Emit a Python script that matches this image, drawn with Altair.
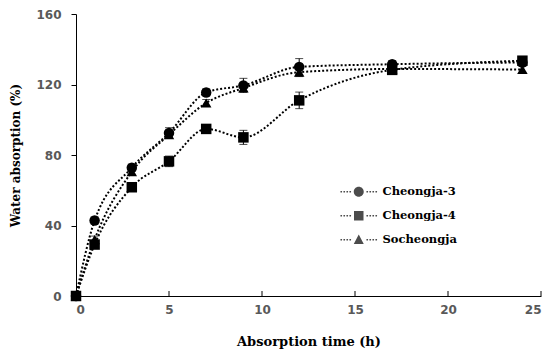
import altair as alt
import pandas as pd

series = ["Cheongja-3", "Cheongja-4", "Socheongja"]
times = [0, 1, 3, 5, 7, 9, 12, 17, 24]
cheongja3 = [0, 42.8, 72.8, 92.5, 115.5, 119.5, 130.0, 131.5, 132.5]
cheongja4 = [0, 29.2, 61.7, 76.4, 94.8, 90.0, 111.0, 128.3, 133.5]
socheongja = [0, 32.0, 70.5, 91.5, 109.5, 118.0, 127.0, 128.8, 128.5]
err3 = [0, 2.0, 2.0, 3.0, 2.0, 4.0, 4.7, 2.0, 2.0]
err4 = [0, 2.0, 2.0, 3.0, 2.0, 4.0, 4.7, 2.0, 2.0]
errs = [0, 2.0, 2.0, 2.0, 2.0, 2.0, 2.5, 2.0, 2.0]
x_ticks = [0, 5, 10, 15, 20, 25]

rows = []
for name, vals, errv in zip(series, [cheongja3, cheongja4, socheongja], [err3, err4, errs]):
    for t, v, e in zip(times, vals, errv):
        rows.append({"series": name, "time": t, "value": v, "lo": v - e, "hi": v + e})
df = pd.DataFrame(rows)
tick_df = pd.DataFrame({"t": x_ticks})

W, H = 465, 282
SERIF = "DejaVu Serif"

xs = alt.Scale(domain=[0, 25], nice=False)
ys = alt.Scale(domain=[0, 160], nice=False)

x_axis = alt.Axis(values=x_ticks, ticks=False, title="Absorption time (h)", labelPadding=8,
                  titlePadding=20, titleFontSize=13)
y_axis = alt.Axis(values=[0, 40, 80, 120, 160], tickSize=5, title="Water absorption (%)",
                  labelPadding=10, titlePadding=13, titleFontSize=12)

base = alt.Chart(df)

lines = base.mark_line(interpolate="monotone", strokeDash=[2, 2], strokeWidth=2, color="black").encode(
    x=alt.X("time:Q", scale=xs, axis=x_axis),
    y=alt.Y("value:Q", scale=ys, axis=y_axis),
    detail="series:N",
)

rules = base.mark_rule(color="black", strokeWidth=1).encode(
    x="time:Q", y="lo:Q", y2="hi:Q"
)
caps_hi = base.mark_tick(orient="horizontal", size=8, thickness=1, color="black").encode(
    x="time:Q", y="hi:Q"
)
caps_lo = base.mark_tick(orient="horizontal", size=8, thickness=1, color="black").encode(
    x="time:Q", y="lo:Q"
)

points = base.mark_point(filled=True, opacity=1, color="black", size=110).encode(
    x="time:Q",
    y="value:Q",
    shape=alt.Shape("series:N", scale=alt.Scale(domain=series, range=["circle", "square", "triangle-up"]),
                    legend=None),
)

def dots():
    parts = []
    for c in [-3.5, -2.9, -2.3, -1.7, 1.7, 2.3, 2.9, 3.5]:
        parts.append(f"M{c-0.16},-0.16h0.32v0.32h-0.32z")
    return "".join(parts)

circle_p = "M1,0A1,1 0 1,1 -1,0A1,1 0 1,1 1,0Z" + dots()
square_p = "M-0.95,-0.95h1.9v1.9h-1.9z" + dots()
tri_p = "M0,-1.05L1.0,0.85L-1.0,0.85Z" + dots()

legend_layer = base.mark_point(filled=True, color="black").encode(
    x="time:Q",
    y="value:Q",
    shape=alt.Shape(
        "series:N",
        scale=alt.Scale(domain=series, range=[circle_p, square_p, tri_p]),
        legend=alt.Legend(
            title=None, orient="none", legendX=277, legendY=172,
            symbolSize=100, symbolFillColor="black", symbolStrokeWidth=0,
            labelOffset=18, labelFont=SERIF, labelFontWeight="bold",
            labelFontSize=11.5, labelColor="black", rowPadding=11, padding=0,
        ),
    ),
).transform_filter("false")

xticks = alt.Chart(tick_df).mark_rule(color="black", strokeWidth=1).encode(
    x=alt.X("t:Q", scale=xs), y=alt.value(H), y2=alt.value(H - 5)
)

chart = alt.layer(lines, rules, caps_hi, caps_lo, points, legend_layer, xticks).resolve_scale(
    shape="independent"
).properties(
    width=W, height=H,
    autosize=alt.AutoSizeParams(type="none"),
    padding={"left": 68, "top": 6, "right": 5, "bottom": 57},
).configure_view(stroke=None).configure_axis(
    domainColor="black", domainWidth=1, tickColor="black", grid=False,
    labelFont="DejaVu Sans", labelFontWeight="bold", labelFontSize=12, labelColor="#595959",
    titleFont=SERIF, titleFontWeight="bold", titleColor="black",
)

chart.save("out.html", embed_options={"renderer": "svg", "actions": False})
